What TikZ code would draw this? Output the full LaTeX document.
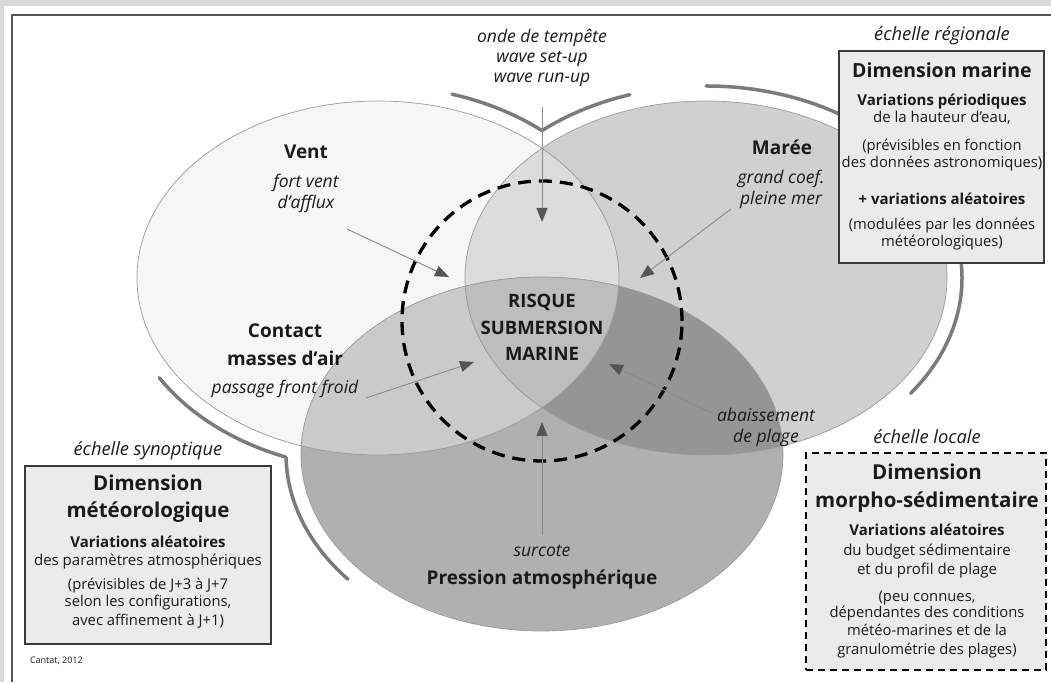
\documentclass[tikz,border=0pt]{standalone}
\usepackage{fontspec}
\setmainfont{Open Sans}
\usetikzlibrary{arrows.meta}
\definecolor{bggray}{HTML}{D9D9D9}
\definecolor{framec}{HTML}{555555}
\definecolor{ventc}{HTML}{F6F6F6}
\definecolor{mareec}{HTML}{D0D0D0}
\definecolor{pressc}{HTML}{B0B0B0}
\definecolor{vmc}{HTML}{DCDCDC}
\definecolor{vpc}{HTML}{CACACA}
\definecolor{mpc}{HTML}{959595}
\definecolor{vmpc}{HTML}{BDBDBD}
\definecolor{outc}{HTML}{9A9A9A}
\definecolor{arcc}{HTML}{7B7B7B}
\definecolor{boxc}{HTML}{EBEBEB}
\definecolor{boxline}{HTML}{3A3A3A}
\definecolor{linec}{HTML}{8A8A8A}
\definecolor{headc}{HTML}{555555}
\definecolor{txt}{HTML}{1A1A1A}
\newcommand\myfs[1]{\fontsize{#1}{#1}\selectfont}
\begin{document}
\begin{tikzpicture}[x=1pt,y=1pt,
  lbl/.style={anchor=mid, inner sep=0pt, outer sep=0pt, text=txt},
  big/.style={lbl, font={\myfs{19}\bfseries}},
  risk/.style={lbl, font={\myfs{18.5}\bfseries}},
  itl/.style={lbl, font={\myfs{17.5}\itshape}},
  scale lbl/.style={lbl, font={\myfs{18.3}\itshape}},
  boxtitle/.style={lbl, font={\myfs{20.5}\bfseries}},
  boxsub/.style={lbl, font={\myfs{15}\bfseries}},
  boxtxt/.style={lbl, font={\myfs{15}}},
  boxsmall/.style={lbl, font={\myfs{14.8}}},
  panel/.style={draw=boxline, fill=boxc, line width=1.5pt, inner sep=0pt, outer sep=0pt, anchor=south west},
  dpanel/.style={draw=black, fill=boxc, line width=2.5pt, dash pattern=on 7pt off 5pt, inner sep=0pt, outer sep=0pt, anchor=south west},
  conn/.style={draw=linec, line width=0.9pt, -{Triangle[length=14pt,width=11pt,color=headc]}},
  arcst/.style={draw=arcc, line width=3.5pt, line cap=round},
  outl/.style={draw=outc, line width=0.7pt}
]
\useasboundingbox (0,0) rectangle (1051,682);
\fill[bggray] (0,0) rectangle (1051,682);
\fill[white] (4,0) rectangle (1051,676);
\draw[framec, line width=2pt] (11.5,0) -- (11.5,667) -- (1051,667);

% ellipses
\fill[ventc] (378,404) ellipse [x radius=241, y radius=177];
\fill[mareec] (706,404) ellipse [x radius=241, y radius=177];
\fill[pressc] (542,228) ellipse [x radius=241, y radius=177];
\begin{scope}
  \clip (378,404) ellipse [x radius=241, y radius=177];
  \fill[vmc] (706,404) ellipse [x radius=241, y radius=177];
  \fill[vpc] (542,228) ellipse [x radius=241, y radius=177];
\end{scope}
\begin{scope}
  \clip (706,404) ellipse [x radius=241, y radius=177];
  \fill[mpc] (542,228) ellipse [x radius=241, y radius=177];
  \clip (378,404) ellipse [x radius=241, y radius=177];
  \fill[vmpc] (542,228) ellipse [x radius=241, y radius=177];
\end{scope}
\draw[outl] (378,404) ellipse [x radius=241, y radius=177];
\draw[outl] (706,404) ellipse [x radius=241, y radius=177];
\draw[outl] (542,228) ellipse [x radius=241, y radius=177];

% thick scale arcs
\draw[arcst] (378,404) ++(73.2:256 and 192) arc[start angle=73.2, end angle=50.16, x radius=256, y radius=192];
\draw[arcst] (706,404) ++(129.84:256 and 192) arc[start angle=129.84, end angle=107.3, x radius=256, y radius=192];
\draw[arcst] (706,404) ++(90:256 and 192) arc[start angle=90, end angle=-36.9, x radius=256, y radius=192];
\draw[arcst] (378,404) ++(211.3:256 and 192) arc[start angle=211.3, end angle=248.9, x radius=256, y radius=192];
\draw[arcst] (542,228) ++(181:256 and 192) arc[start angle=181, end angle=220.7, x radius=256, y radius=192];

% dashed circle
\draw[black, line width=3.3pt, dash pattern=on 13pt off 8pt] (542,361) circle [radius=140];

% arrows
\coordinate (aTopS) at (542,575);
\coordinate (aTopE) at (542,460);
\coordinate (aVentS) at (347,453);
\coordinate (aVentE) at (449,405);
\coordinate (aMarS) at (731,473);
\coordinate (aMarE) at (640,404);
\coordinate (aConS) at (366,284);
\coordinate (aConE) at (474,320);
\coordinate (aAbaS) at (712,269);
\coordinate (aAbaE) at (609,318);
\coordinate (aBotS) at (542,147);
\coordinate (aBotE) at (542,260);
\draw[conn] (aTopS) -- (aTopE);
\draw[conn] (aVentS) -- (aVentE);
\draw[conn] (aMarS) -- (aMarE);
\draw[conn] (aConS) -- (aConE);
\draw[conn] (aAbaS) -- (aAbaE);
\draw[conn] (aBotS) -- (aBotE);

% boxes
\node[panel, minimum width=205pt, minimum height=212pt] (boxM) at (839,419) {};
\node[panel, minimum width=246pt, minimum height=178pt] (boxP) at (25,38) {};
\node[dpanel, minimum width=240pt, minimum height=217pt] (boxS) at (806,12) {};

% top labels
\node[itl] (ot1) at (542,642) {onde de tempête};
\node[itl] (ot2) at (542,622) {wave set-up};
\node[itl] (ot3) at (542,602) {wave run-up};

% ellipse labels
\node[big] (vent) at (306,526) {Vent};
\node[itl] (vent1) at (306,497) {fort vent};
\node[itl] (vent2) at (306,476) {d'afflux};
\node[big] (maree) at (782,530) {Marée};
\node[itl] (maree1) at (781,501) {grand coef.};
\node[itl] (maree2) at (781,480) {pleine mer};
\node[big] (cont1) at (285,347) {Contact};
\node[big] (cont2) at (285,319) {masses d'air};
\node[itl] (cont3) at (285,291) {passage front froid};
\node[risk] (r1) at (542,377) {RISQUE};
\node[risk] (r2) at (542,350) {SUBMERSION};
\node[risk] (r3) at (542,324) {MARINE};
\node[itl] (ab1) at (766,263) {abaissement};
\node[itl] (ab2) at (766,242) {de plage};
\node[itl] (surc) at (542,128) {surcote};
\node[big] (press) at (542,100) {Pression atmosphérique};

% right box
\node[scale lbl] (ereg) at (942,644) {échelle régionale};
\node[boxtitle, font={\myfs{19.5}\bfseries}] (m1) at (942,607) {Dimension marine};
\node[boxsub] (m2) at (942,579) {Variations périodiques};
\node[boxtxt] (m3) at (942,562) {de la hauteur d'eau,};
\node[boxsmall] (m4) at (942,534) {(prévisibles en fonction};
\node[boxsmall] (m5) at (942,517) {des données astronomiques)};
\node[boxsub] (m6) at (942,480) {+ variations aléatoires};
\node[boxsmall] (m7) at (942,455) {(modulées par les données};
\node[boxsmall] (m8) at (942,438) {météorologiques)};

% left box
\node[scale lbl] (esyn) at (148,229) {échelle synoptique};
\node[boxtitle] (p1) at (148,194) {Dimension};
\node[boxtitle] (p2) at (148,167) {météorologique};
\node[boxsub] (p3) at (148,137) {Variations aléatoires};
\node[boxtxt] (p4) at (148,119) {des paramètres atmosphériques};
\node[boxsmall] (p5) at (148,95) {(prévisibles de J+3 à J+7};
\node[boxsmall] (p6) at (148,78) {selon les configurations,};
\node[boxsmall] (p7) at (148,59) {avec affinement à J+1)};
\node[lbl, anchor=base west, font={\myfs{9}}] (cantat) at (30,18) {Cantat, 2012};

% dashed box
\node[scale lbl] (eloc) at (927,241) {échelle locale};
\node[boxtitle] (s1) at (927,205) {Dimension};
\node[boxtitle] (s2) at (927,177) {morpho-sédimentaire};
\node[boxsub] (s3) at (927,149) {Variations aléatoires};
\node[boxtxt] (s4) at (927,129) {du budget sédimentaire};
\node[boxtxt] (s5) at (927,110) {et du profil de plage};
\node[boxsmall] (s6) at (927,83) {(peu connues,};
\node[boxsmall] (s7) at (927,67) {dépendantes des conditions};
\node[boxsmall] (s8) at (927,49) {météo-marines et de la};
\node[boxsmall] (s9) at (927,30) {granulométrie des plages)};
\end{tikzpicture}
\end{document}
